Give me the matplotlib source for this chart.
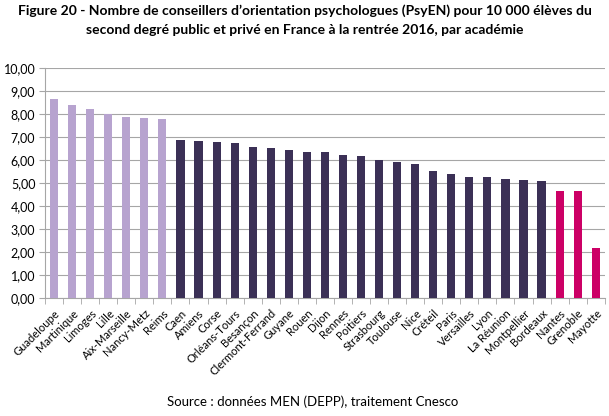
import numpy as np
import matplotlib.pyplot as plt
from matplotlib.ticker import FuncFormatter

# academies and ratio per 10 000 pupils
academies = ['Guadeloupe', 'Martinique', 'Limoges', 'Lille', 'Aix-Marseille', 'Nancy-Metz', 'Reims',
             'Caen', 'Amiens', 'Corse', 'Orléans-Tours', 'Besançon', 'Clermont-Ferrand', 'Guyane',
             'Rouen', 'Dijon', 'Rennes', 'Poitiers', 'Strasbourg', 'Toulouse', 'Nice', 'Créteil',
             'Paris', 'Versailles', 'Lyon', 'La Réunion', 'Montpellier', 'Bordeaux',
             'Nantes', 'Grenoble', 'Mayotte']
values = [8.65, 8.39, 8.23, 8.01, 7.85, 7.82, 7.79,
          6.85, 6.83, 6.76, 6.73, 6.57, 6.51, 6.44,
          6.35, 6.34, 6.21, 6.18, 6.00, 5.89, 5.80, 5.51,
          5.39, 5.26, 5.25, 5.15, 5.12, 5.06,
          4.66, 4.63, 2.16]
groups = [0]*7 + [1]*21 + [2]*3
group_colors = ['#b7a3cf', '#3b3056', '#cc0066']

plt.rcParams['font.family'] = ['Lato', 'DejaVu Sans']

fig = plt.figure(figsize=(6.09, 4.16), dpi=100)
ax = fig.add_axes([0.074, 0.284, 0.919, 0.553])

x = np.arange(len(academies))
cols = [group_colors[g] for g in groups]
ax.bar(x, values, width=0.45, color=cols, zorder=3)

ax.set_xlim(-0.5, len(academies) - 0.5)
ax.set_ylim(0, 10)
ax.set_yticks(np.arange(0, 11, 1))
ax.yaxis.set_major_formatter(FuncFormatter(lambda v, p: f'{v:.2f}'.replace('.', ',')))
ax.grid(axis='y', color='#a6a6a6', linewidth=0.8, zorder=0)

ax.set_xticks(x)
ax.set_xticklabels(academies, rotation=45, ha='right', rotation_mode='anchor', fontsize=8)
ax.set_xticks(np.arange(-0.5, len(academies), 1), minor=True)
ax.tick_params(axis='x', which='major', length=0, pad=7)
ax.tick_params(axis='x', which='minor', length=4, color='#a6a6a6')
ax.tick_params(axis='y', labelsize=9, length=4, color='#a6a6a6', pad=3)

for s in ['top', 'right']:
    ax.spines[s].set_visible(False)
ax.spines['left'].set_color('#a6a6a6')
ax.spines['bottom'].set_color('#a6a6a6')

fig.text(0.5, 0.99, "Figure 20 - Nombre de conseillers d’orientation psychologues (PsyEN) pour 10 000 élèves du\n"
         "second degré public et privé en France à la rentrée 2016, par académie",
         ha='center', va='top', fontsize=10, fontweight='bold', linespacing=1.7)
fig.text(0.514, 0.019, 'Source : données MEN (DEPP), traitement Cnesco', ha='center', va='bottom', fontsize=9.5)

fig.savefig('out.png', dpi=100)
